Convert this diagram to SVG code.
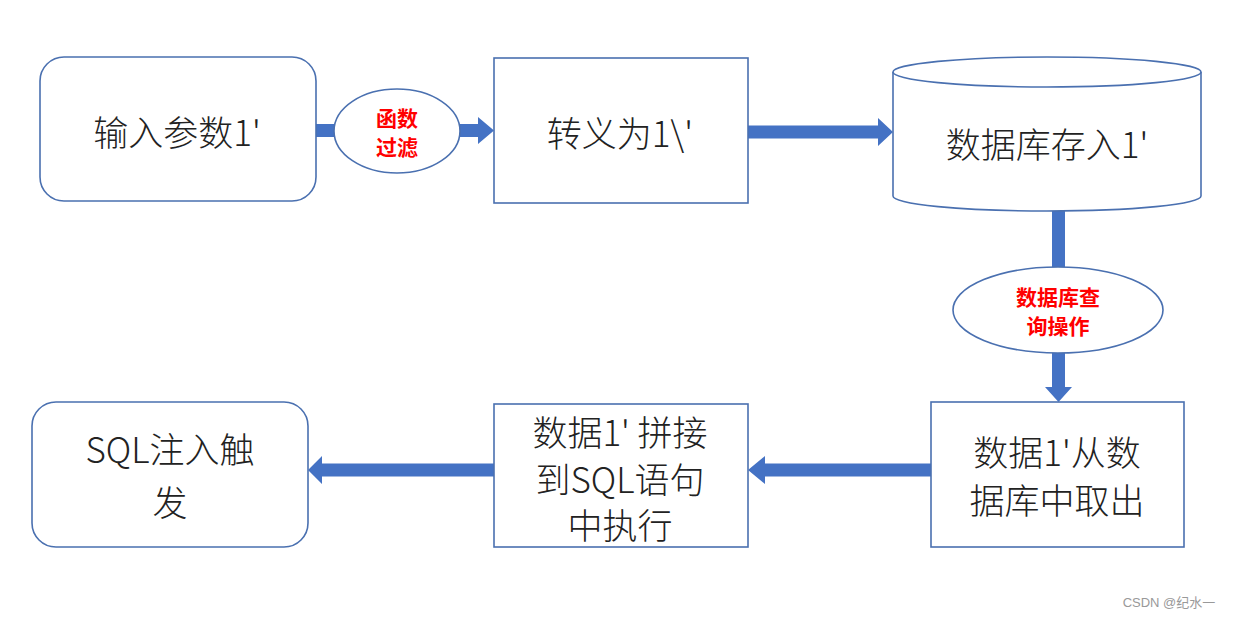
<svg xmlns="http://www.w3.org/2000/svg" width="1234" height="617" viewBox="0 0 1234 617">
<style>
.box{fill:#fff;stroke:#4A70B0;stroke-width:1.6}
.arr{fill:#4472C4;stroke:none}
.t{font-family:"Noto Sans CJK SC","Liberation Sans",sans-serif;font-size:35px;font-weight:300;fill:#222;text-anchor:middle;dominant-baseline:central}
.r{font-family:"Noto Sans CJK SC","Liberation Sans",sans-serif;font-size:21px;font-weight:bold;fill:#FF0000;text-anchor:middle;dominant-baseline:central}
.w{font-family:"Liberation Sans","Noto Sans CJK SC",sans-serif;font-size:13px;fill:#999;text-anchor:middle;dominant-baseline:central}
</style>
<rect width="1234" height="617" fill="#fff"/>
<g id="connectors">
<polygon class="arr" points="316,124 478,124 478,117 494,130.5 478,144 478,137 316,137"/>
<polygon class="arr" points="748,125.5 878,125.5 878,118 893,132 878,146 878,138.5 748,138.5"/>
<polygon class="arr" points="1052,211 1065,211 1065,387 1072,387 1058.5,402 1045,387 1052,387"/>
<polygon class="arr" points="931,463.5 765,463.5 765,456 748,470 765,484 765,476.5 931,476.5"/>
<polygon class="arr" points="494,463.5 322,463.5 322,456 308,470 322,484 322,476.5 494,476.5"/>
</g>
<g id="node-input">
<rect class="box" x="40" y="57" width="276" height="144" rx="24"/>
<text class="t" x="177" y="130">输入参数1'</text>
</g>
<g id="label-filter">
<ellipse class="box" cx="397" cy="131" rx="63" ry="42"/>
<text class="r" x="397" y="117">函数</text>
<text class="r" x="397" y="146">过滤</text>
</g>
<g id="node-escape">
<rect class="box" x="494" y="58" width="254" height="145"/>
<text class="t" x="620" y="131">转义为1\'</text>
</g>
<g id="node-db">
<path class="box" d="M893,72 L893,196 A154,15 0 0 0 1201,196 L1201,72"/>
<ellipse class="box" cx="1047" cy="72" rx="154" ry="15"/>
<text class="t" x="1047" y="142">数据库存入1'</text>
</g>
<g id="label-query">
<ellipse class="box" cx="1058" cy="310" rx="105" ry="43"/>
<text class="r" x="1058" y="296">数据库查</text>
<text class="r" x="1058" y="325">询操作</text>
</g>
<g id="node-fetch">
<rect class="box" x="931" y="402" width="253" height="145"/>
<text class="t" x="1057" y="450">数据1'从数</text>
<text class="t" x="1057" y="498">据库中取出</text>
</g>
<g id="node-concat">
<rect class="box" x="494" y="404" width="254" height="143"/>
<text class="t" x="620" y="430">数据1' 拼接</text>
<text class="t" x="620" y="477">到SQL语句</text>
<text class="t" x="620" y="523">中执行</text>
</g>
<g id="node-trigger">
<rect class="box" x="32" y="402" width="276" height="145" rx="24"/>
<text class="t" x="170" y="447">SQL注入触</text>
<text class="t" x="170" y="500">发</text>
</g>
<text class="w" x="1169" y="602">CSDN @纪水一</text>
</svg>
